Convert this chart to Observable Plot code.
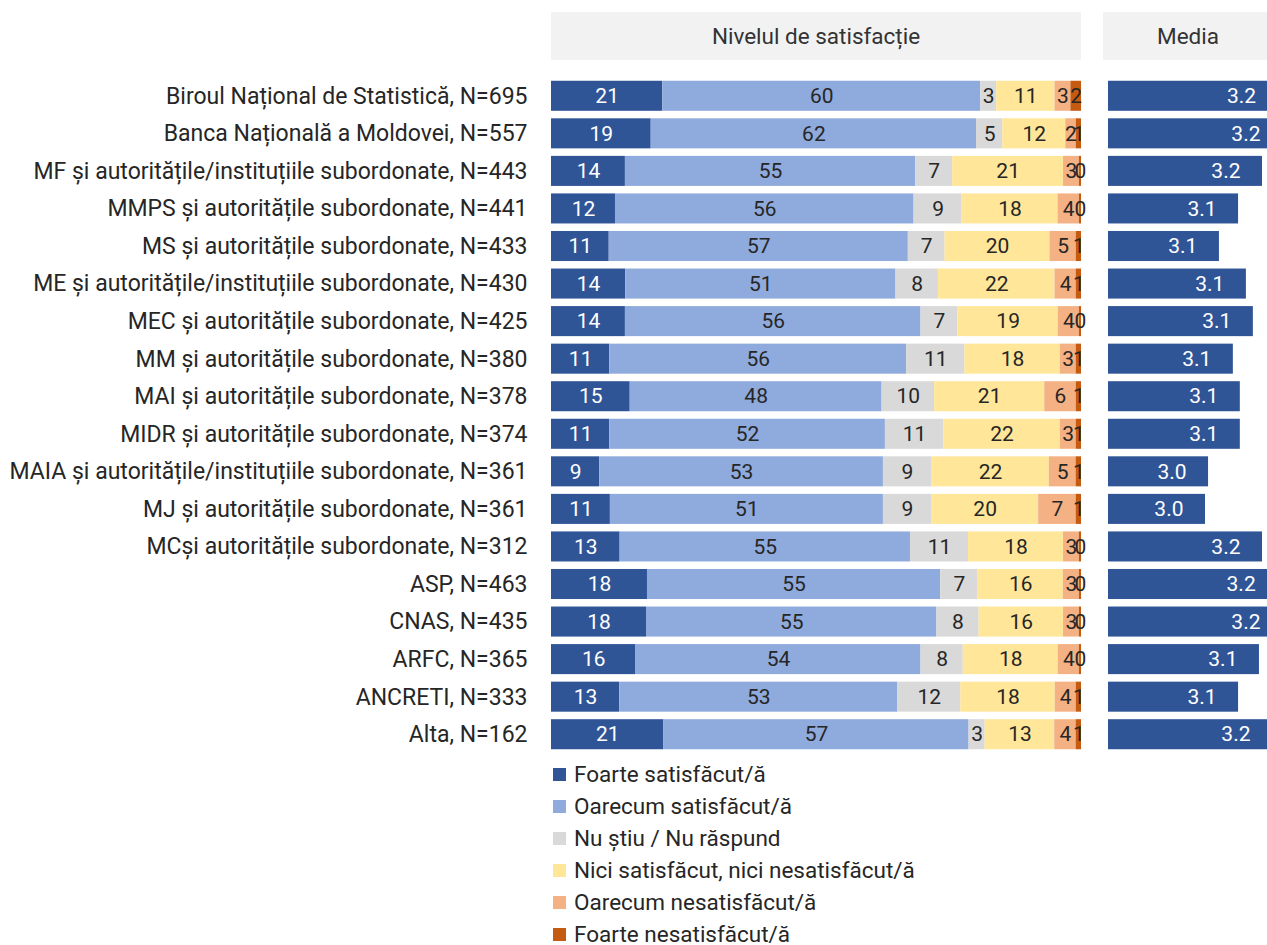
<!DOCTYPE html>
<html><head><meta charset="utf-8">
<script src="https://cdn.jsdelivr.net/npm/d3@7"></script>
<script src="https://cdn.jsdelivr.net/npm/@observablehq/plot@0.6"></script>
<style>
html,body{margin:0;padding:0;background:#fff;overflow:hidden;}
body{width:1267px;height:945px;position:relative;font-family:Roboto,"Noto Sans",sans-serif;color:#262626;}
.hdr{position:absolute;top:12px;height:48px;background:#f2f2f2;font-size:22.5px;display:flex;align-items:center;justify-content:center;color:#333;}
#main{position:absolute;left:0;top:0;}
#media{position:absolute;left:1100px;top:0;}
#legend{position:absolute;left:553px;top:758px;font-size:22.5px;}
.li{height:32px;display:flex;align-items:center;}
.sw{width:13px;height:13px;margin-right:8px;}
</style></head><body>
<div class="hdr" style="left:551px;width:530px;">Nivelul de satisfacție</div>
<div class="hdr" style="left:1103px;width:170px;">Media</div>
<div id="main"></div>
<div id="media"></div>
<div id="legend"></div>
<script>
const categories = [
  "Biroul Național de Statistică, N=695",
  "Banca Națională a Moldovei, N=557",
  "MF și autoritățile/instituțiile subordonate, N=443",
  "MMPS și autoritățile subordonate, N=441",
  "MS și autoritățile subordonate, N=433",
  "ME și autoritățile/instituțiile subordonate, N=430",
  "MEC și autoritățile subordonate, N=425",
  "MM și autoritățile subordonate, N=380",
  "MAI și autoritățile subordonate, N=378",
  "MIDR și autoritățile subordonate, N=374",
  "MAIA și autoritățile/instituțiile subordonate, N=361",
  "MJ și autoritățile subordonate, N=361",
  "MCși autoritățile subordonate, N=312",
  "ASP, N=463",
  "CNAS, N=435",
  "ARFC, N=365",
  "ANCRETI, N=333",
  "Alta, N=162"
];
const seriesNames = [
  "Foarte satisfăcut/ă",
  "Oarecum satisfăcut/ă",
  "Nu știu / Nu răspund",
  "Nici satisfăcut, nici nesatisfăcut/ă",
  "Oarecum nesatisfăcut/ă",
  "Foarte nesatisfăcut/ă"
];
const colors = ["#2F5597", "#8FAADC", "#D9D9D9", "#FFE699", "#F4B183", "#C55A11"];
const foarteSatisfacut   = [21, 19, 14, 12, 11, 14, 14, 11, 15, 11, 9, 11, 13, 18, 18, 16, 13, 21];
const oarecumSatisfacut  = [60, 62, 55, 56, 57, 51, 56, 56, 48, 52, 53, 51, 55, 55, 55, 54, 53, 57];
const nuStiu             = [3, 5, 7, 9, 7, 8, 7, 11, 10, 11, 9, 9, 11, 7, 8, 8, 12, 3];
const nici               = [11, 12, 21, 18, 20, 22, 19, 18, 21, 22, 22, 20, 18, 16, 16, 18, 18, 13];
const oarecumNesatisfacut= [3, 2, 3, 4, 5, 4, 4, 3, 6, 3, 5, 7, 3, 3, 3, 4, 4, 4];
const foarteNesatisfacut = [2, 1, 0.4, 0.4, 1, 1, 0.4, 1, 1, 1, 1, 1, 0.4, 0.4, 0.4, 0.4, 1, 1];
const media = [3.19, 3.20, 3.154, 3.099, 3.055, 3.117, 3.133, 3.087, 3.103, 3.103, 3.030, 3.023, 3.154, 3.189, 3.20, 3.147, 3.099, 3.177];

const seriesValues = [foarteSatisfacut, oarecumSatisfacut, nuStiu, nici, oarecumNesatisfacut, foarteNesatisfacut];
const rows = [];
categories.forEach((c, i) => seriesNames.forEach((s, j) => rows.push({cat: c, series: s, si: j, value: seriesValues[j][i]})));
const mediaRows = categories.map((c, i) => ({cat: c, media: media[i]}));

const yScale = {domain: categories, paddingInner: 0.2, paddingOuter: 0.1, round: false, label: null};
const stackOpts = {x: "value", y: "cat", z: "series", order: seriesNames, offset: "normalize"};
const font = "Roboto, 'Noto Sans', sans-serif";

const main = Plot.plot({
  width: 1090, height: 753,
  marginLeft: 551, marginRight: 9, marginTop: 77, marginBottom: 0,
  style: {fontFamily: font, fontSize: "23px", color: "#262626", background: "transparent"},
  x: {domain: [0, 1], axis: null},
  y: yScale,
  color: {domain: seriesNames, range: colors},
  marks: [
    Plot.barX(rows, Plot.stackX({...stackOpts, fill: "series"})),
    Plot.text(rows, Plot.filter(d => d.si === 0, Plot.stackX({...stackOpts, text: d => Math.round(d.value), fill: "#fff", fontSize: 21}))),
    Plot.text(rows, Plot.filter(d => d.si !== 0, Plot.stackX({...stackOpts, text: d => Math.round(d.value), fill: "#262626", fontSize: 21}))),
    Plot.axisY({tickSize: 0, tickPadding: 24, fontSize: 23})
  ]
});
document.getElementById("main").appendChild(main);

const med = Plot.plot({
  width: 167, height: 753,
  marginLeft: 8, marginRight: 0, marginTop: 77, marginBottom: 0,
  style: {fontFamily: font, fontSize: "21px", background: "transparent"},
  x: {domain: [2.8, 3.1655], axis: null},
  y: {...yScale, axis: null},
  marks: [
    Plot.barX(mediaRows, {x: "media", y: "cat", fill: "#2F5597", clip: true}),
    Plot.text(mediaRows, {x: "media", y: "cat", text: d => d.media.toFixed(1), fill: "#fff", textAnchor: "end", dx: -22, fontSize: 21})
  ]
});
document.getElementById("media").appendChild(med);

const lg = document.getElementById("legend");
seriesNames.forEach((s, j) => {
  const it = document.createElement("div");
  it.className = "li";
  it.innerHTML = `<div class="sw" style="background:${colors[j]}"></div><span>${s}</span>`;
  lg.appendChild(it);
});
</script>
</body></html>
